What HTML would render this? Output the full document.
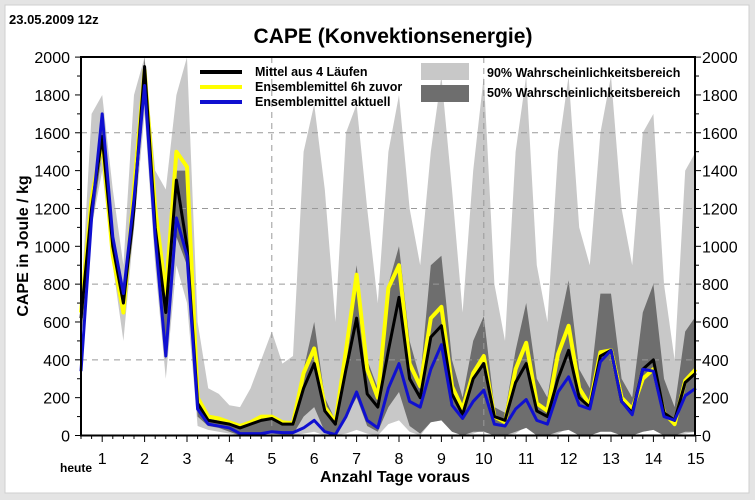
<!DOCTYPE html>
<html><head><meta charset="utf-8"><style>
body{margin:0;background:#e4e4e4;width:755px;height:500px;overflow:hidden}
svg{position:absolute;left:0;top:0}
text{font-family:"Liberation Sans",Arial,sans-serif}
</style></head><body>
<svg id="s" width="755" height="500" xmlns="http://www.w3.org/2000/svg">
<rect x="5" y="5" width="744" height="488" fill="#fff" stroke="#cfcfcf"/>
</svg>
<script>
const NS="http://www.w3.org/2000/svg",s=document.getElementById('s');
function el(t,a,txt){const e=document.createElementNS(NS,t);for(const k in a)e.setAttribute(k,a[k]);if(txt!==undefined)e.textContent=txt;s.appendChild(e);return e;}
const X=i=>81+i*10.6, Y=v=>435.5-v*0.1892;
const B=[620,1200,1580,1000,700,1200,1950,1100,650,1350,1000,170,80,70,60,40,60,80,90,60,60,250,380,130,60,350,620,220,150,450,730,300,200,520,580,220,110,300,380,100,80,280,380,130,100,300,450,200,150,420,450,180,120,350,400,120,80,280,330];
const Yl=[650,1250,1560,950,650,1300,1930,1200,750,1500,1420,200,100,90,70,50,70,100,100,70,65,330,460,150,70,450,850,350,200,780,900,380,260,620,680,260,140,330,420,100,70,350,490,170,130,430,580,250,160,440,450,200,140,300,350,120,60,290,350];
const L=[340,1150,1700,1050,750,1250,1850,1050,420,1150,950,140,60,50,40,10,10,10,20,15,15,40,80,20,5,100,230,80,40,250,380,180,150,350,480,160,90,180,240,60,50,140,190,80,60,230,310,160,140,390,450,180,110,350,340,100,80,210,250];
const G1=[700,1700,1800,1300,900,1800,2000,1400,1300,1800,2000,600,250,220,160,150,250,400,550,380,420,1500,1750,1300,600,1600,1750,1200,700,1500,1800,1200,900,1500,1900,1300,650,1400,1900,800,500,1500,1900,900,600,1500,1900,1100,900,1600,1900,1200,900,1600,1700,800,400,1400,1500];
const g1=[600,1100,1400,900,500,1100,1700,900,300,900,700,50,30,20,10,0,0,0,0,0,0,10,20,0,0,10,30,10,0,60,80,20,0,70,80,20,0,10,30,0,0,10,50,0,0,10,40,0,0,20,30,0,0,20,30,0,0,10,20];
const D1=[650,1250,1650,1050,750,1300,2000,1150,700,1400,1400,150,90,80,60,50,70,100,100,70,70,350,600,200,80,500,900,400,250,800,1000,500,300,900,950,400,200,500,630,150,120,450,700,300,200,550,820,350,250,750,750,300,200,650,800,300,150,550,630];
const d1=[500,1100,1500,950,650,1100,1850,1050,400,1050,900,100,50,40,20,0,0,10,10,5,5,100,150,20,0,100,200,50,20,150,230,50,10,70,80,20,0,20,20,0,0,20,40,0,0,20,30,0,0,20,20,0,0,20,30,0,0,20,20];
function band(u,l,c){let p=u.map((v,i)=>X(i)+','+Y(v)).join(' ')+' '+l.map((v,i)=>X(i)+','+Y(v)).reverse().join(' ');el('polygon',{points:p,fill:c});}
band(G1,g1,'#c8c8c8');band(D1,d1,'#6e6e6e');
// grid
[400,800,1200,1600].forEach(v=>el('line',{x1:81,x2:695,y1:Y(v),y2:Y(v),stroke:'#999','stroke-dasharray':'6,5','stroke-width':1}));
[5,10].forEach(d=>{const x=81+(d-0.5)*42.4;el('line',{x1:x,x2:x,y1:57,y2:435,stroke:'#999','stroke-dasharray':'6,5'})});
function line(a,c,w){el('polyline',{points:a.map((v,i)=>X(i)+','+Y(v)).join(' '),fill:'none',stroke:c,'stroke-width':w,'stroke-linejoin':'round'});}
line(Yl,'#ffff00',4);line(B,'#000',3);line(L,'#1010d0',3);
// axes
el('rect',{x:81,y:57,width:614,height:378.5,fill:'none',stroke:'#000','stroke-width':2});
for(let v=0;v<=2000;v+=100){const y=Y(v),L2=v%200?4:6;el('line',{x1:81-L2,x2:81,y1:y,y2:y,stroke:'#000'});el('line',{x1:695,x2:695+L2,y1:y,y2:y,stroke:'#000'});
if(v%200==0){el('text',{x:70,y:y+6,'font-size':16,'text-anchor':'end'},v);el('text',{x:702,y:y+6,'font-size':16},v);}}
for(let i=0;i<=58;i++){el('line',{x1:X(i),x2:X(i),y1:435,y2:i%4==2?442:439,stroke:'#000'});}
for(let d=1;d<=15;d++)el('text',{x:81+(d-0.5)*42.4,y:464,'font-size':16,'text-anchor':'middle'},d);
el('text',{x:60,y:472,'font-size':12,'font-weight':'bold'},'heute');
el('text',{x:395,y:482,'font-size':16,'font-weight':'bold','text-anchor':'middle'},'Anzahl Tage voraus');
el('text',{x:28,y:246,'font-size':16,'font-weight':'bold','text-anchor':'middle',transform:'rotate(-90 28 246)'},'CAPE in Joule / kg');
el('text',{x:393,y:43,'font-size':21,'font-weight':'bold','text-anchor':'middle'},'CAPE (Konvektionsenergie)');
el('text',{x:9,y:24,'font-size':13,'font-weight':'bold'},'23.05.2009 12z');
// legend
[['#000',72,'Mittel aus 4 Läufen'],['#ffff00',87,'Ensemblemittel 6h zuvor'],['#1010d0',102,'Ensemblemittel aktuell']].forEach(([c,y,t])=>{el('line',{x1:200,x2:242,y1:y,y2:y,stroke:c,'stroke-width':4});el('text',{x:255,y:y+4,'font-size':12.5,'font-weight':'bold'},t);});
el('rect',{x:421,y:63,width:48,height:17,fill:'#c8c8c8'});
el('rect',{x:421,y:85,width:48,height:17,fill:'#6e6e6e'});
el('text',{x:487,y:77,'font-size':12.5,'font-weight':'bold'},'90% Wahrscheinlichkeitsbereich');
el('text',{x:487,y:97,'font-size':12.5,'font-weight':'bold'},'50% Wahrscheinlichkeitsbereich');
</script>
</body></html>
